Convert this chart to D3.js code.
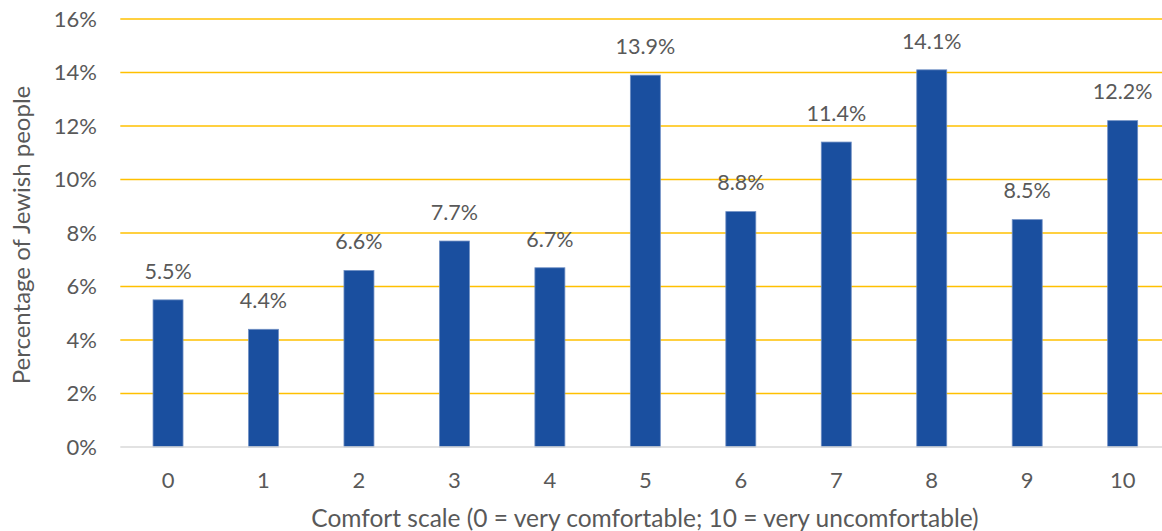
<!DOCTYPE html>
<html><head><meta charset="utf-8">
<script src="https://cdn.jsdelivr.net/npm/d3@7"></script>
<style>body{margin:0;background:#fff}svg{display:block}text{font-family:Lato,"Open Sans",sans-serif;fill:#595959}</style>
</head><body><svg id="c" width="1162" height="531"></svg>
<script>
const categories = ["0","1","2","3","4","5","6","7","8","9","10"];
const values = [5.5, 4.4, 6.6, 7.7, 6.7, 13.9, 8.8, 11.4, 14.1, 8.5, 12.2];
const yTicks = [0, 2, 4, 6, 8, 10, 12, 14, 16];
const xTitle = "Comfort scale (0 = very comfortable; 10 = very uncomfortable)";
const yTitle = "Percentage of Jewish people";

const svg = d3.select("#c");
const m = {left: 120.3, right: 1170.4, top: 19, bottom: 447};
const x = d3.scaleBand().domain(categories).range([m.left, m.right]).paddingInner(0.686).paddingOuter(0.343);
const y = d3.scaleLinear().domain([0, 16]).range([m.bottom, m.top]);

svg.append("g").selectAll("line").data(yTicks.filter(d => d > 0)).join("line")
  .attr("x1", m.left).attr("x2", m.right).attr("y1", d => y(d)).attr("y2", d => y(d))
  .attr("stroke", "#ffc000").attr("stroke-width", 1.5);
svg.append("g").selectAll("text").data(yTicks).join("text")
  .attr("x", 97).attr("y", d => y(d)).attr("dy", "0.36em").attr("text-anchor", "end")
  .attr("font-size", 22).text(d => d + "%");
svg.append("g").selectAll("rect").data(values).join("rect")
  .attr("x", (d, i) => x(categories[i])).attr("width", x.bandwidth())
  .attr("y", d => y(d)).attr("height", d => y(0) - y(d))
  .attr("fill", "#1a4f9f").attr("stroke", "#6f8fc4").attr("stroke-width", 0.8);
svg.append("line").attr("x1", m.left).attr("x2", m.right).attr("y1", y(0)).attr("y2", y(0))
  .attr("stroke", "#d9d9d9").attr("stroke-width", 1.5);
svg.append("g").selectAll("text").data(categories).join("text")
  .attr("x", d => x(d) + x.bandwidth() / 2).attr("y", 480).attr("dy", "0.36em")
  .attr("text-anchor", "middle").attr("font-size", 22).text(d => d);
svg.append("g").selectAll("text").data(values).join("text")
  .attr("x", (d, i) => x(categories[i]) + x.bandwidth() / 2).attr("y", d => y(d) - 29).attr("dy", "0.36em")
  .attr("text-anchor", "middle").attr("font-size", 21.5).text(d => d.toFixed(1) + "%");
svg.append("text").attr("x", 645).attr("y", 518).attr("dy", "0.36em").attr("text-anchor", "middle")
  .attr("font-size", 24.5).text(xTitle);
svg.append("text").attr("transform", "translate(21,235) rotate(-90)").attr("dy", "0.36em")
  .attr("text-anchor", "middle").attr("font-size", 24).text(yTitle);
</script></body></html>
